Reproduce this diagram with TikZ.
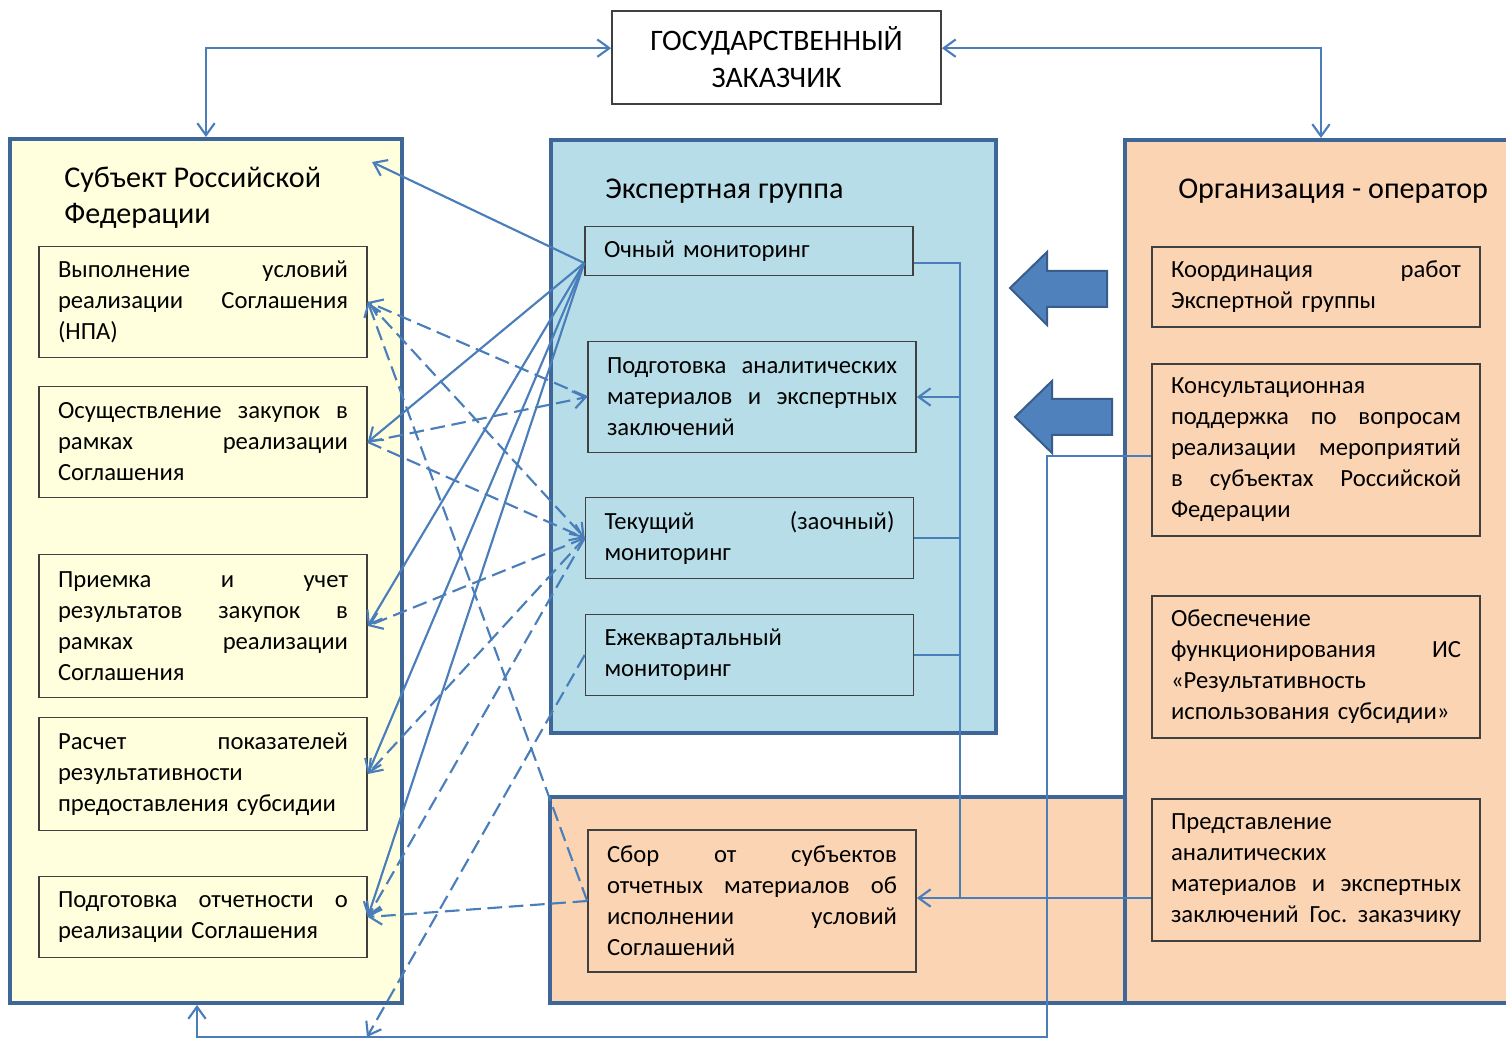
\documentclass[tikz,border=0pt]{standalone}
\usepackage{fontspec}
\setmainfont{Carlito}
\usetikzlibrary{arrows.meta,calc}
\definecolor{ybg}{HTML}{FFFFDD}
\definecolor{bbg}{HTML}{B7DEE8}
\definecolor{pbg}{HTML}{FBD4B4}
\definecolor{bord}{HTML}{3E6698}
\definecolor{lnk}{HTML}{4A7EBB}
\definecolor{arrf}{HTML}{4F81BD}
\definecolor{arrb}{HTML}{385D8A}
\newcommand{\J}[1]{\leavevmode\hbox to 217.5pt{#1}}
\frenchspacing
\tikzset{
  >={Straight Barb[length=9pt,width=13pt]},
  bigbox/.style={draw=bord, line width=3pt, inner sep=0pt},
  ibox/.style={draw=black!75, line width=1.2pt, text width=217.5pt, inner xsep=14.25pt,
    inner ysep=0pt, align=left, font=\fontsize{18.5}{23.25}\selectfont},
  ttl/.style={inner sep=0pt, anchor=west, align=left, font=\fontsize{22.6}{27}\selectfont},
  conn/.style={draw=lnk, line width=1.6pt},
  arr/.style={conn, ->},
  darr/.style={conn, ->, dash pattern=on 11pt off 5pt},
  blockarr/.style={fill=arrf, draw=arrb, line width=1.5pt, line join=miter},
}
\begin{document}
\begin{tikzpicture}[x=0.75pt, y=-0.75pt]
\path[use as bounding box] (0,0) rectangle (1506,1044);
\clip (0,0) rectangle (1506,1044);

% big containers
\node[bigbox, fill=ybg, minimum width=294pt, minimum height=648pt] (subj) at (206,571) {};
\node[bigbox, fill=bbg, minimum width=333.75pt, minimum height=444.75pt] (exp) at (773.5,436.5) {};
\node[bigbox, fill=pbg, minimum width=431.25pt, minimum height=154.5pt] (bot) at (837.5,900) {};
\node[bigbox, fill=pbg, minimum width=294pt, minimum height=647.25pt] (org) at (1321,571.5) {};

% customer
\node[draw=black!75, line width=1.3pt, fill=white, minimum width=246.75pt, minimum height=69.75pt,
  align=center, font=\fontsize{22.3}{27.75}\selectfont] (gz) at (776.5,57.5) {ГОСУДАРСТВЕННЫЙ\\ЗАКАЗЧИК};

% titles
\node[ttl] (t1) at (64,198) {Субъект Российской\\Федерации};
\node[ttl] (t2) at (605,191) {Экспертная группа};
\node[ttl] (t3) at (1178,191) {Организация - оператор};

% left column
\node[ibox, minimum height=83.25pt] (vy) at (203,302) {\J{Выполнение\hfill условий}\\\J{реализации\hfill Соглашения}\\(НПА)};
\node[ibox, minimum height=83.25pt] (os) at (203,442) {\J{Осуществление\hfill закупок\hfill в}\\\J{рамках\hfill реализации}\\Соглашения};
\node[ibox, minimum height=107.25pt] (pr) at (203,626) {\J{Приемка\hfill и\hfill учет}\\\J{результатов\hfill закупок\hfill в}\\\J{рамках\hfill реализации}\\Соглашения};
\node[ibox, minimum height=84.75pt] (ra) at (203,774) {\J{Расчет\hfill показателей}\\результативности\\предоставления субсидии};
\node[ibox, minimum height=60.75pt] (po) at (203,917) {\J{Подготовка\hfill отчетности\hfill о}\\реализации Соглашения};

% middle column
\node[ibox, minimum height=36.75pt] (och) at (749,251) {Очный мониторинг};
\node[ibox, minimum height=83.25pt] (pa) at (752,397) {\J{Подготовка\hfill аналитических}\\\J{материалов\hfill и\hfill экспертных}\\заключений};
\node[ibox, minimum height=60.75pt] (tk) at (749.5,538) {\J{Текущий\hfill (заочный)}\\мониторинг};
\node[ibox, minimum height=60.75pt] (ej) at (749.5,655) {Ежеквартальный\\мониторинг};
\node[ibox, minimum height=106.5pt] (sb) at (752,901) {\J{Сбор\hfill от\hfill субъектов}\\\J{отчетных\hfill материалов\hfill об}\\\J{исполнении\hfill условий}\\Соглашений};

% right column
\node[ibox, minimum height=60pt] (ko) at (1316,287) {\J{Координация\hfill работ}\\Экспертной группы};
\node[ibox, minimum height=129pt] (kons) at (1316,450) {Консультационная\\\J{поддержка\hfill по\hfill вопросам}\\\J{реализации\hfill мероприятий}\\\J{в\hfill субъектах\hfill Российской}\\Федерации};
\node[ibox, minimum height=106.5pt] (ob) at (1316,667) {Обеспечение\\\J{функционирования\hfill ИС}\\«Результативность\\использования субсидии»};
\node[ibox, minimum height=106.5pt] (pred) at (1316,870) {Представление\\аналитических\\\J{материалов\hfill и\hfill экспертных}\\\J{заключений\hfill Гос.\hfill заказчику}};

% block arrows
\draw[blockarr] (1010,288) -- (1047,252) -- (1047,271) -- (1107,271) -- (1107,307) -- (1047,307) -- (1047,325) -- cycle;
\draw[blockarr] (1015,417) -- (1052,381) -- (1052,399) -- (1112,399) -- (1112,435) -- (1052,435) -- (1052,453) -- cycle;

% helper coordinates
\coordinate (subjT) at (372,162);
\coordinate (ejEnd) at (367,1037);
\coordinate (bus) at (960,898);
\coordinate (kb) at (1047,1037);

% top connectors
\draw[conn, <->] (subj.north) |- ([yshift=7pt]gz.west);
\draw[conn, <->] (org.north) |- ([yshift=7pt]gz.east);

% bus on the right of expert group
\draw[conn] ([yshift=-9pt]och.east) -| (bus);
\draw[conn] (tk.east) -- (tk.east -| bus);
\draw[conn] (ej.east) -- (ej.east -| bus);
\draw[arr] (pa.east -| bus) -- (pa.east);
\draw[arr] (bus -| pred.west) -- (bus -| sb.east);

% consultation line to the subject box
\draw[arr] ([yshift=-4.5pt]kons.west) -| (kb) -| ([xshift=-6.75pt]subj.south);

% solid fan from on-site monitoring
\draw[arr] ([yshift=-9pt]och.west) -- (subjT);
\draw[arr] ([yshift=-9pt]och.west) -- (os.east);
\draw[arr] ([yshift=-9pt]och.west) -- (pr.east);
\draw[arr] ([yshift=-9pt]och.west) -- (ra.east);
\draw[arr] ([yshift=-9pt]och.west) -- (po.east);

% dashed connectors
\draw[darr] (pa.west) -- (vy.east);
\draw[darr] (os.east) -- (pa.west);
\draw[darr] (vy.east) -- (tk.west);
\draw[darr] (os.east) -- (tk.west);
\draw[darr] (tk.west) -- (pr.east);
\draw[darr] (tk.west) -- (ra.east);
\draw[darr] (tk.west) -- (po.east);
\draw[darr] (sb.west) -- (vy.east);
\draw[darr] (sb.west) -- (po.east);
\draw[darr] (ej.west) -- (ejEnd);
\end{tikzpicture}
\end{document}
